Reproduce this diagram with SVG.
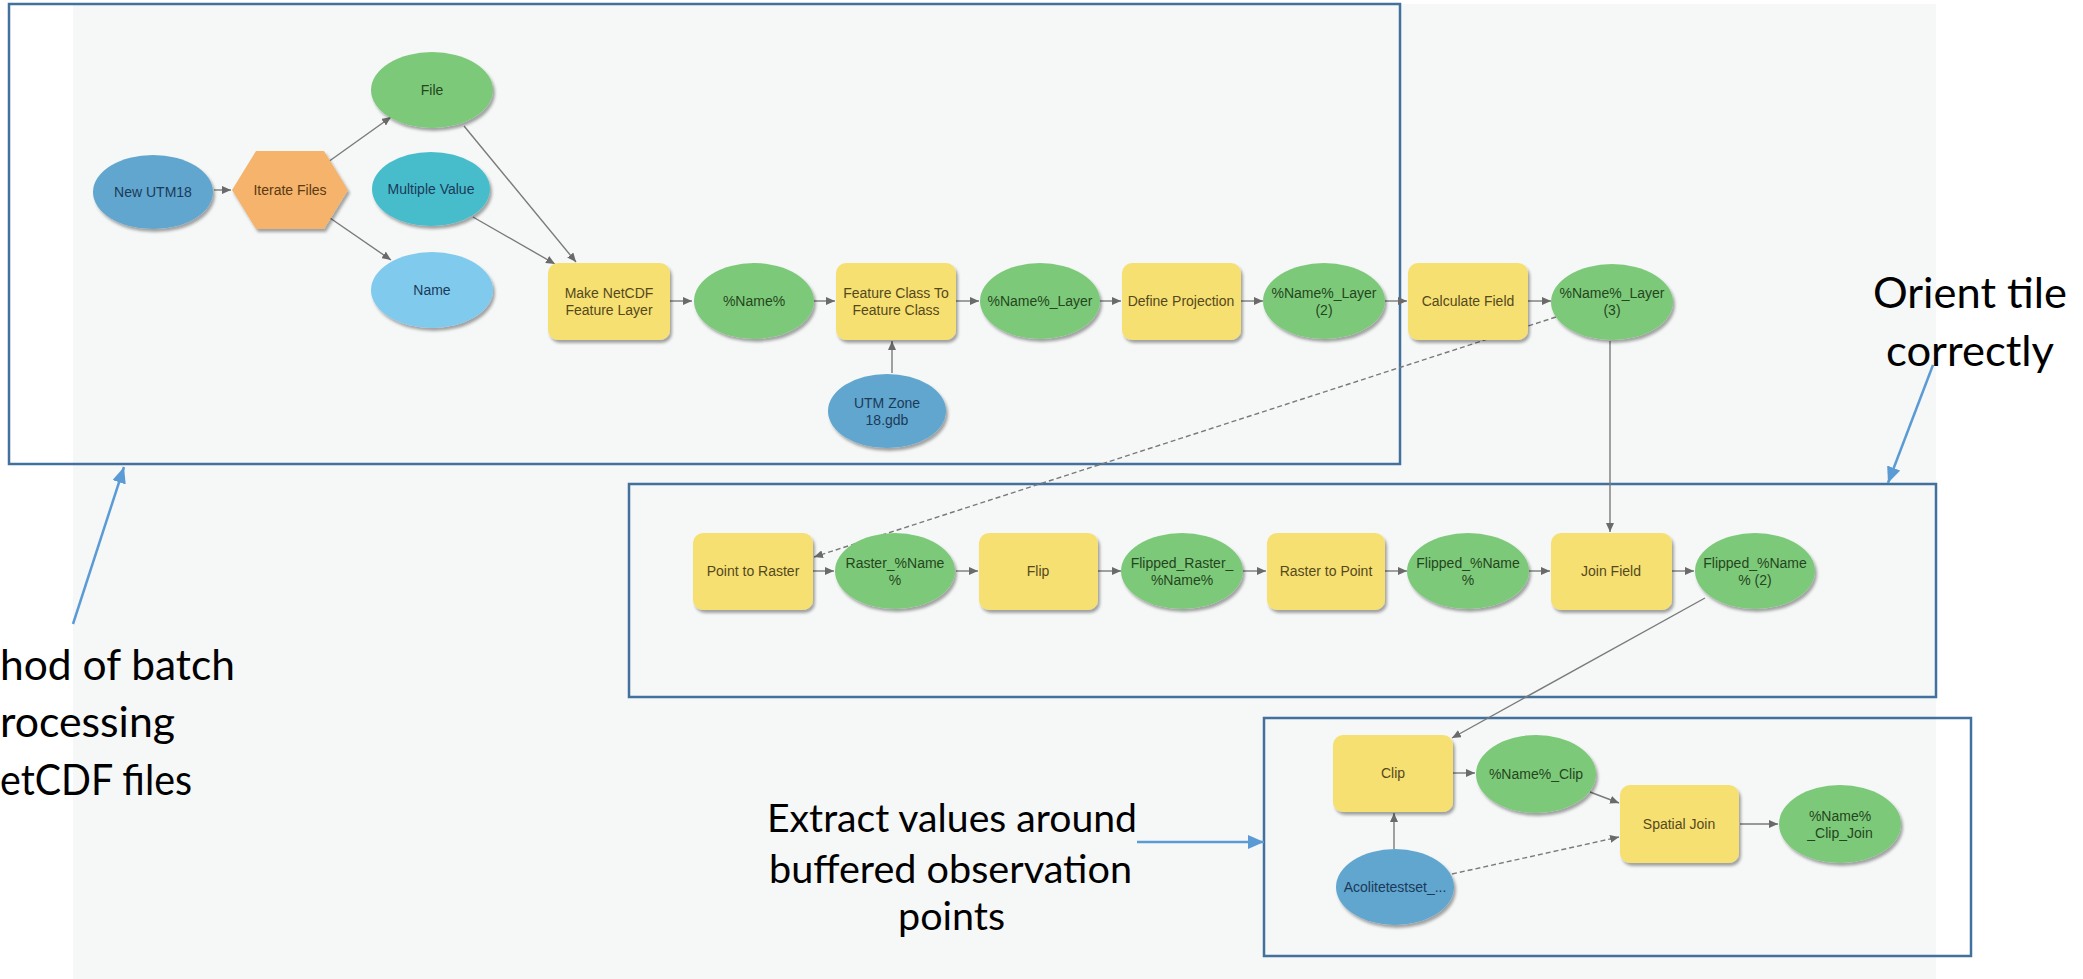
<svg xmlns="http://www.w3.org/2000/svg" width="2083" height="979" viewBox="0 0 2083 979">
<style>
.frame{fill:none;stroke:#41719c;stroke-width:2.5}
.ann{fill:none;stroke:#5b9bd5;stroke-width:2.5}
.con{fill:none;stroke:#7a7a7a;stroke-width:1.4}
.dash{stroke-dasharray:5 3}
.g{fill:#7dc97a}
.y{fill:#f6e072}
.b{fill:#61a6cf}
.t{fill:#47bdcc}
.lb{fill:#80caee}
.o{fill:#f5b36c}
.lbl{font-family:"Liberation Sans",Arial,sans-serif;font-size:14px;text-anchor:middle}
.lg{fill:#24461c}
.ly{fill:#55491c}
.lbu{fill:#1c3a58}
.lo{fill:#5a3a12}
.big{font-family:Lato,"Open Sans",sans-serif;fill:#000}
</style>
<defs>
<filter id="sh" x="-20%" y="-20%" width="150%" height="150%">
<feDropShadow dx="2" dy="3" stdDeviation="1.5" flood-color="#000" flood-opacity="0.35"/>
</filter>
<marker id="ah" markerUnits="userSpaceOnUse" markerWidth="10" markerHeight="8" refX="9" refY="4" orient="auto">
<path d="M0,0 L9,4 L0,8 z" fill="#6a6a6a"/>
</marker>
<marker id="bh" markerUnits="userSpaceOnUse" markerWidth="18" markerHeight="16" refX="16" refY="7" orient="auto">
<path d="M0,0 L16,7 L0,14 z" fill="#5b9bd5"/>
</marker>
</defs>

<rect x="73" y="4" width="1863" height="975" fill="#f6f7f7"/>

<g id="frames">
<rect class="frame" x="9" y="4" width="1391" height="460"/>
<rect class="frame" x="629" y="484" width="1307" height="213"/>
<rect class="frame" x="1264" y="718" width="707" height="238"/>
</g>

<g id="connectors">
<line class="con" x1="214" y1="190" x2="231" y2="190" marker-end="url(#ah)"/>
<line class="con" x1="328" y1="162" x2="391" y2="117" marker-end="url(#ah)"/>
<line class="con" x1="330" y1="218" x2="391" y2="260" marker-end="url(#ah)"/>
<line class="con" x1="464" y1="126" x2="576" y2="262" marker-end="url(#ah)"/>
<line class="con" x1="473" y1="217" x2="555" y2="264" marker-end="url(#ah)"/>
<line class="con" x1="670" y1="301" x2="692" y2="301" marker-end="url(#ah)"/>
<line class="con" x1="814" y1="301" x2="835" y2="301" marker-end="url(#ah)"/>
<line class="con" x1="956" y1="301" x2="979" y2="301" marker-end="url(#ah)"/>
<line class="con" x1="1100" y1="301" x2="1121" y2="301" marker-end="url(#ah)"/>
<line class="con" x1="1241" y1="301" x2="1263" y2="301" marker-end="url(#ah)"/>
<line class="con" x1="1385" y1="301" x2="1407" y2="301" marker-end="url(#ah)"/>
<line class="con" x1="1528" y1="301" x2="1551" y2="301" marker-end="url(#ah)"/>
<line class="con" x1="892" y1="373" x2="892" y2="341" marker-end="url(#ah)"/>
<line class="con dash" x1="1556" y1="317" x2="814" y2="557" marker-end="url(#ah)"/>
<line class="con" x1="1610" y1="341" x2="1610" y2="532" marker-end="url(#ah)"/>
<line class="con" x1="813" y1="571" x2="834" y2="571" marker-end="url(#ah)"/>
<line class="con" x1="956" y1="571" x2="978" y2="571" marker-end="url(#ah)"/>
<line class="con" x1="1098" y1="571" x2="1121" y2="571" marker-end="url(#ah)"/>
<line class="con" x1="1243" y1="571" x2="1266" y2="571" marker-end="url(#ah)"/>
<line class="con" x1="1385" y1="571" x2="1407" y2="571" marker-end="url(#ah)"/>
<line class="con" x1="1529" y1="571" x2="1550" y2="571" marker-end="url(#ah)"/>
<line class="con" x1="1672" y1="571" x2="1694" y2="571" marker-end="url(#ah)"/>
<line class="con" x1="1705" y1="598" x2="1452" y2="738" marker-end="url(#ah)"/>
<line class="con" x1="1394" y1="849" x2="1394" y2="813" marker-end="url(#ah)"/>
<line class="con" x1="1453" y1="773" x2="1475" y2="773" marker-end="url(#ah)"/>
<line class="con" x1="1590" y1="792" x2="1619" y2="803" marker-end="url(#ah)"/>
<line class="con dash" x1="1452" y1="874" x2="1619" y2="837" marker-end="url(#ah)"/>
<line class="con" x1="1740" y1="824" x2="1778" y2="824" marker-end="url(#ah)"/>
</g>

<g id="n-new-utm18"><ellipse class="b" filter="url(#sh)" cx="153" cy="192" rx="60" ry="37"/><text class="lbl lbu" x="153" y="197">New UTM18</text></g>
<g id="n-iterate-files"><polygon class="o" filter="url(#sh)" points="232,190 256,151 324,151 348,190 324,229 256,229"/><text class="lbl lo" x="290" y="195">Iterate Files</text></g>
<g id="n-file"><ellipse class="g" filter="url(#sh)" cx="432" cy="90" rx="61" ry="38"/><text class="lbl lg" x="432" y="95">File</text></g>
<g id="n-multiple-value"><ellipse class="t" filter="url(#sh)" cx="431" cy="189" rx="59" ry="37"/><text class="lbl lbu" x="431" y="194">Multiple Value</text></g>
<g id="n-name"><ellipse class="lb" filter="url(#sh)" cx="432" cy="290" rx="61" ry="38"/><text class="lbl lbu" x="432" y="295">Name</text></g>
<g id="n-make-netcdf"><rect class="y" filter="url(#sh)" x="548" y="263" width="122" height="77" rx="10"/><text class="lbl ly" x="609" y="298">Make NetCDF</text><text class="lbl ly" x="609" y="315">Feature Layer</text></g>
<g id="n-name1"><ellipse class="g" filter="url(#sh)" cx="754" cy="301" rx="60" ry="38"/><text class="lbl lg" x="754" y="306">%Name%</text></g>
<g id="n-fc2fc"><rect class="y" filter="url(#sh)" x="836" y="263" width="120" height="77" rx="10"/><text class="lbl ly" x="896" y="298">Feature Class To</text><text class="lbl ly" x="896" y="315">Feature Class</text></g>
<g id="n-utm-zone"><ellipse class="b" filter="url(#sh)" cx="887" cy="411" rx="59" ry="37"/><text class="lbl lbu" x="887" y="408">UTM Zone</text><text class="lbl lbu" x="887" y="425">18.gdb</text></g>
<g id="n-name-layer"><ellipse class="g" filter="url(#sh)" cx="1040" cy="301" rx="60" ry="38"/><text class="lbl lg" x="1040" y="306">%Name%_Layer</text></g>
<g id="n-define-projection"><rect class="y" filter="url(#sh)" x="1122" y="263" width="119" height="77" rx="10"/><text class="lbl ly" x="1181" y="306">Define Projection</text></g>
<g id="n-name-layer2"><ellipse class="g" filter="url(#sh)" cx="1324" cy="301" rx="61" ry="38"/><text class="lbl lg" x="1324" y="298">%Name%_Layer</text><text class="lbl lg" x="1324" y="315">(2)</text></g>
<g id="n-calculate-field"><rect class="y" filter="url(#sh)" x="1408" y="263" width="120" height="77" rx="10"/><text class="lbl ly" x="1468" y="306">Calculate Field</text></g>
<g id="n-name-layer3"><ellipse class="g" filter="url(#sh)" cx="1612" cy="302" rx="61" ry="38"/><text class="lbl lg" x="1612" y="298">%Name%_Layer</text><text class="lbl lg" x="1612" y="315">(3)</text></g>

<g id="n-point-to-raster"><rect class="y" filter="url(#sh)" x="693" y="533" width="120" height="77" rx="10"/><text class="lbl ly" x="753" y="576">Point to Raster</text></g>
<g id="n-raster-name"><ellipse class="g" filter="url(#sh)" cx="895" cy="571" rx="60" ry="38"/><text class="lbl lg" x="895" y="568">Raster_%Name</text><text class="lbl lg" x="895" y="585">%</text></g>
<g id="n-flip"><rect class="y" filter="url(#sh)" x="979" y="533" width="119" height="77" rx="10"/><text class="lbl ly" x="1038" y="576">Flip</text></g>
<g id="n-flipped-raster"><ellipse class="g" filter="url(#sh)" cx="1182" cy="571" rx="61" ry="38"/><text class="lbl lg" x="1182" y="568">Flipped_Raster_</text><text class="lbl lg" x="1182" y="585">%Name%</text></g>
<g id="n-raster-to-point"><rect class="y" filter="url(#sh)" x="1267" y="533" width="118" height="77" rx="10"/><text class="lbl ly" x="1326" y="576">Raster to Point</text></g>
<g id="n-flipped-name"><ellipse class="g" filter="url(#sh)" cx="1468" cy="571" rx="61" ry="38"/><text class="lbl lg" x="1468" y="568">Flipped_%Name</text><text class="lbl lg" x="1468" y="585">%</text></g>
<g id="n-join-field"><rect class="y" filter="url(#sh)" x="1551" y="533" width="121" height="77" rx="10"/><text class="lbl ly" x="1611" y="576">Join Field</text></g>
<g id="n-flipped-name2"><ellipse class="g" filter="url(#sh)" cx="1755" cy="571" rx="60" ry="38"/><text class="lbl lg" x="1755" y="568">Flipped_%Name</text><text class="lbl lg" x="1755" y="585">% (2)</text></g>

<g id="n-clip"><rect class="y" filter="url(#sh)" x="1333" y="735" width="120" height="77" rx="10"/><text class="lbl ly" x="1393" y="778">Clip</text></g>
<g id="n-name-clip"><ellipse class="g" filter="url(#sh)" cx="1536" cy="774" rx="60" ry="39"/><text class="lbl lg" x="1536" y="779">%Name%_Clip</text></g>
<g id="n-acolite"><ellipse class="b" filter="url(#sh)" cx="1395" cy="887" rx="59" ry="38"/><text class="lbl lbu" x="1395" y="892">Acolitetestset_...</text></g>
<g id="n-spatial-join"><rect class="y" filter="url(#sh)" x="1620" y="785" width="119" height="78" rx="10"/><text class="lbl ly" x="1679" y="829">Spatial Join</text></g>
<g id="n-clip-join"><ellipse class="g" filter="url(#sh)" cx="1840" cy="824" rx="61" ry="39"/><text class="lbl lg" x="1840" y="821">%Name%</text><text class="lbl lg" x="1840" y="838">_Clip_Join</text></g>

<g id="annotations">
<line class="ann" x1="73" y1="624" x2="124" y2="467" marker-end="url(#bh)"/>
<line class="ann" x1="1933" y1="365" x2="1888" y2="483" marker-end="url(#bh)"/>
<line class="ann" x1="1137" y1="842" x2="1264" y2="842" marker-end="url(#bh)"/>
<text class="big" font-size="43" x="0" y="680" textLength="235" lengthAdjust="spacingAndGlyphs">hod of batch</text>
<text class="big" font-size="43" x="0" y="737" textLength="175" lengthAdjust="spacingAndGlyphs">rocessing</text>
<text class="big" font-size="43" x="0" y="795" textLength="192" lengthAdjust="spacingAndGlyphs">etCDF files</text>
<text class="big" font-size="43" x="1873" y="308" textLength="194" lengthAdjust="spacingAndGlyphs">Orient tile</text>
<text class="big" font-size="43" x="1886" y="366" textLength="168" lengthAdjust="spacingAndGlyphs">correctly</text>
<text class="big" font-size="38" x="767" y="832" textLength="370" lengthAdjust="spacingAndGlyphs">Extract values around</text>
<text class="big" font-size="38" x="769" y="883" textLength="363" lengthAdjust="spacingAndGlyphs">buffered observation</text>
<text class="big" font-size="38" x="898" y="930" textLength="107" lengthAdjust="spacingAndGlyphs">points</text>
</g>
</svg>
